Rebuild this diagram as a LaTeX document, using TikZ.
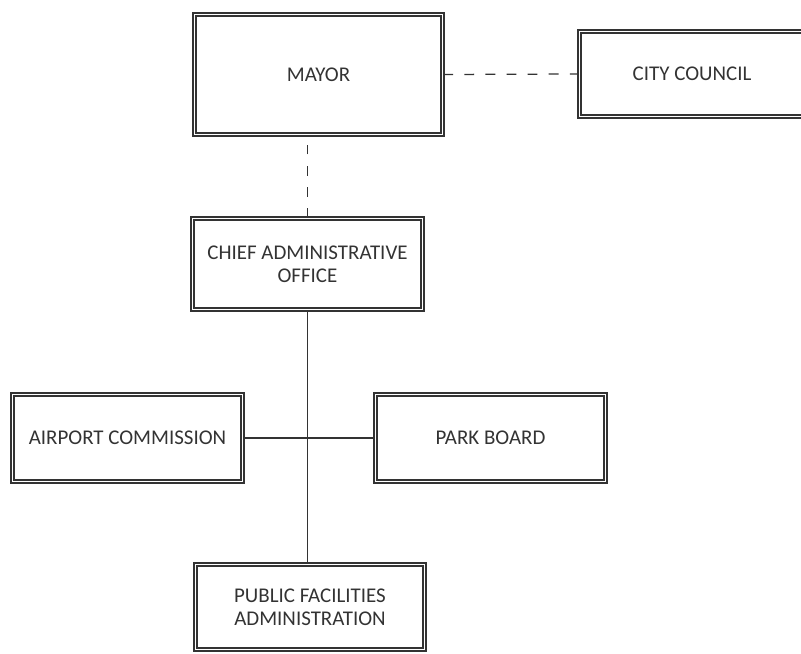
\documentclass[tikz,border=0pt]{standalone}
\usepackage{fontspec}
\setmainfont{Carlito}
\usepackage{xcolor}
\definecolor{inkgray}{gray}{0.2}

\begin{document}
\begin{tikzpicture}[
  box/.style={draw=inkgray, line width=1.05pt, double, double distance=1.4pt, align=center,
    minimum width=5.75cm, minimum height=2.175cm, text=inkgray,
    font=\fontsize{14.9}{16.5}\selectfont},
  link/.style={draw=inkgray, line width=0.8pt},
  dashlink/.style={draw=inkgray, line width=0.9pt, dash pattern=on 7pt off 8pt}
]
  \useasboundingbox (0,0) rectangle (20.025,-16.35);

  \node[box, minimum width=6.2cm, minimum height=3cm] (mayor) at (7.9625,-1.8625) {MAYOR};
  \node[box, minimum width=5.625cm, minimum height=2.125cm] (council) at (17.3,-1.85) {CITY COUNCIL};
  \node[box, minimum height=2.275cm] (cao) at (7.6875,-6.6) {CHIEF ADMINISTRATIVE\\OFFICE};
  \node[box] (airport) at (3.1875,-10.95) {AIRPORT COMMISSION};
  \node[box] (park) at (12.2625,-10.95) {PARK BOARD};
  \node[box, minimum width=5.725cm, minimum height=2.125cm] (pfa) at (7.75,-15.175) {PUBLIC FACILITIES\\ADMINISTRATION};

  \draw[dashlink] (mayor.east) -- (council.west);
  \draw[dashlink] (cao.north) -- (cao.north |- mayor.south);
  \draw[link] (airport.east) -- (park.west);
  \draw[link] (cao.south) -- (cao.south |- pfa.north);
\end{tikzpicture}
\end{document}
